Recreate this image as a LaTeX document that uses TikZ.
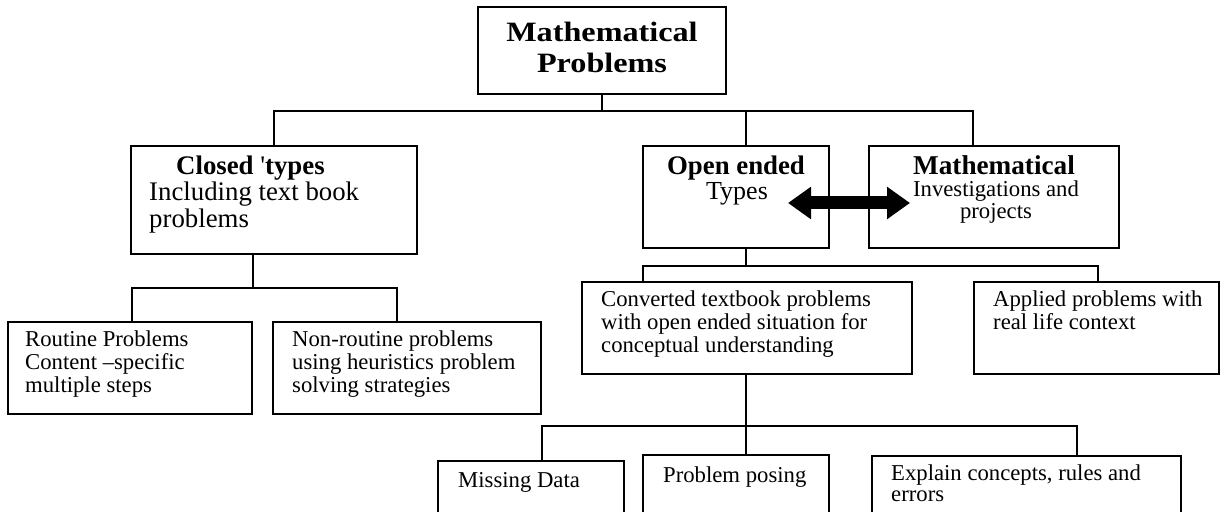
\documentclass[tikz,border=0pt]{standalone}
\usepackage{fontspec}
\setmainfont{Liberation Serif}
\newfontfamily\titlefont[FakeStretch=1.15]{Liberation Serif}
\usetikzlibrary{arrows.meta}

% multi-line text blocks whose reference point is the first baseline
\newcommand\leftlines[1]{\begin{tabular}[t]{@{}l@{}}#1\end{tabular}}
\newcommand\midlines[1]{\begin{tabular}[t]{@{}c@{}}#1\end{tabular}}
\newcommand\fsz[2]{\fontsize{#1bp}{#2bp}\selectfont}

\tikzset{
  box/.style={draw, line width=1.8bp, inner sep=0pt, outer sep=0pt, anchor=north west},
  link/.style={line width=1.8bp},
  txt/.style={inner sep=0pt, anchor=base west},
  ctxt/.style={inner sep=0pt, anchor=base},
  small/.style={font=\fsz{22.7}{22.8}},
  dblarrow/.style={line width=13bp,
    {Triangle[length=23bp,width=31bp]}-{Triangle[length=23bp,width=31bp]}}
}

\begin{document}
\begin{tikzpicture}[x=1bp,y=-1bp]
\useasboundingbox (0,0) rectangle (1221,512);
\fill[white] (0,0) rectangle (1221,512);
\clip (0,0) rectangle (1221,512);

% ---------- boxes ----------
\node[box, line width=2bp, minimum width=248bp, minimum height=87bp] (title) at (478,7) {};
\node[box, minimum width=286bp, minimum height=108bp] (closed) at (131,146) {};
\node[box, minimum width=186bp, minimum height=102bp] (open) at (643,146) {};
\node[box, minimum width=250bp, minimum height=102bp] (math) at (869,146) {};
\node[box, minimum width=244bp, minimum height=92bp] (routine) at (8,322) {};
\node[box, minimum width=268bp, minimum height=92bp] (nonroutine) at (273,322) {};
\node[box, minimum width=330bp, minimum height=92bp] (converted) at (582,282) {};
\node[box, minimum width=245bp, minimum height=92bp] (applied) at (974,282) {};
\node[box, minimum width=186bp, minimum height=80bp] (missing) at (438,461) {};
\node[box, minimum width=186bp, minimum height=80bp] (posing) at (643,455) {};
\node[box, minimum width=309bp, minimum height=80bp] (explain) at (872,456) {};

% ---------- texts ----------
\node[ctxt, font=\titlefont\bfseries\fsz{28}{30.6}] (ttitle) at (602,42)
  {\midlines{Mathematical\\Problems}};

\node[txt, font=\bfseries\fsz{26.8}{26}] (tclosedhead) at (176,175)
  {Closed {\mdseries\textquotesingle}types};
\node[txt, font=\fsz{26.8}{26}] (tclosed) at (149,201)
  {\leftlines{Including text book\\problems}};

\node[ctxt, font=\bfseries\fsz{26.8}{26}] (topenhead) at (736,175) {Open ended};
\node[ctxt, font=\fsz{26}{26}] (topen) at (737,200) {Types};

\node[ctxt, font=\bfseries\fsz{27.2}{26}] (tmathhead) at (994,175) {Mathematical};
\node[ctxt, font=\fsz{22.7}{22}] (tmath) at (996,197)
  {\midlines{Investigations and\\projects}};

\node[txt, small] (troutine) at (25,347)
  {\leftlines{Routine Problems\\Content --specific\\multiple steps}};
\node[txt, small] (tnonroutine) at (292,347)
  {\leftlines{Non-routine problems\\using heuristics problem\\solving strategies}};
\node[txt, small] (tconverted) at (601,307)
  {\leftlines{Converted textbook problems\\with open ended situation for\\conceptual understanding}};
\node[txt, small] (tapplied) at (993,307)
  {\leftlines{Applied problems with\\real life context}};
\node[txt, small] (tmissing) at (458,487) {Missing Data};
\node[txt, small] (tposing) at (663,482) {Problem posing};
\node[txt, font=\fsz{22.7}{21}] (texplain) at (891,480)
  {\leftlines{Explain concepts, rules and\\errors}};

% ---------- connectors ----------
\coordinate (busTop) at (602,111);
\draw[link] (title.south) -- (busTop);
\draw[link] (closed.north) |- (busTop);
\draw[link] ([xshift=10bp]open.north) |- (busTop);
\draw[link] ([xshift=-21bp]math.north) |- (busTop);

\coordinate (busClosed) at (253,288);
\draw[link] ([xshift=-21bp]closed.south) -- (busClosed);
\draw[link] ([xshift=2bp]routine.north) |- (busClosed);
\draw[link] ([xshift=-10bp]nonroutine.north) |- (busClosed);

\coordinate (busOpen) at (746,266);
\draw[link] ([xshift=10bp]open.south) -- (busOpen);
\draw[link] ([xshift=-104bp]converted.north) |- (busOpen);
\draw[link] ([xshift=1.5bp]applied.north) |- (busOpen);

\coordinate (busConv) at (746,426);
\draw[link] ([xshift=-1bp]converted.south) -- (busConv);
\draw[link] ([xshift=11bp]missing.north) |- (busConv);
\draw[link] ([xshift=10bp]posing.north) |- (busConv);
\draw[link] ([xshift=50.5bp]explain.north) |- (busConv);

% ---------- two-way arrow between the open-ended and investigation boxes ----------
\coordinate (arrL) at (788,203);
\coordinate (arrR) at (910,203);
\draw[dblarrow] (arrL) -- (arrR);
\end{tikzpicture}
\end{document}
